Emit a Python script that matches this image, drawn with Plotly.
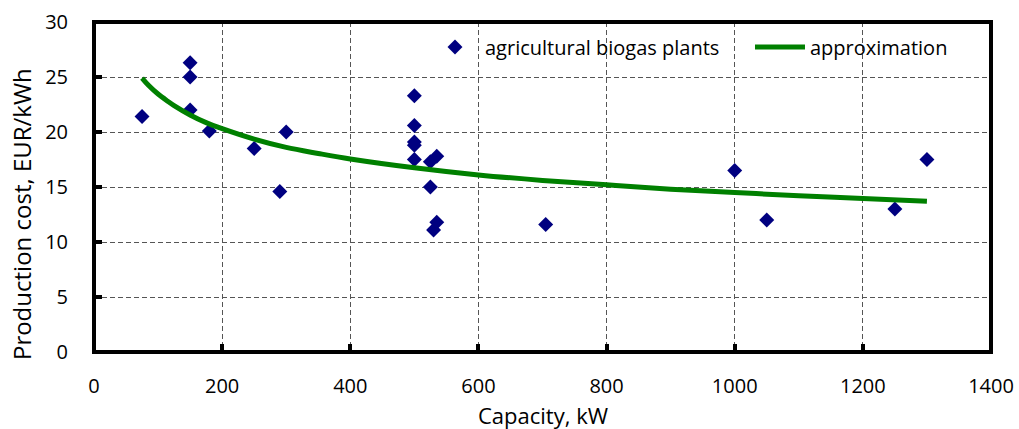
import plotly.graph_objects as go

# Scatter data: agricultural biogas plants
capacity_kw = [75, 150, 150, 150, 180, 250, 290, 300, 500, 500, 500, 500, 500,
               525, 535, 525, 535, 530, 705, 1000, 1050, 1250, 1300]
cost_eur_kwh = [21.4, 26.3, 25.0, 22.0, 20.1, 18.5, 14.6, 20.0, 23.3, 20.6, 19.1, 18.8, 17.5,
                17.3, 17.8, 15.0, 11.8, 11.1, 11.6, 16.5, 12.0, 13.0, 17.5]

# Approximation curve
approx_x = [75, 85, 100, 115, 125, 150, 175, 200, 250, 300, 350, 400, 500, 600, 700, 800,
            900, 1000, 1100, 1200, 1300]
approx_y = [24.9, 24.25, 23.45, 22.8, 22.4, 21.55, 20.85, 20.3, 19.35, 18.6, 18.05, 17.55,
            16.75, 16.1, 15.6, 15.2, 14.8, 14.5, 14.2, 13.95, 13.7]

x_ticks = [0, 200, 400, 600, 800, 1000, 1200, 1400]
y_ticks = [0, 5, 10, 15, 20, 25, 30]

FONT = "Open Sans"

fig = go.Figure()
fig.add_trace(go.Scatter(
    x=capacity_kw, y=cost_eur_kwh, mode="markers",
    name="agricultural biogas plants",
    marker=dict(symbol="diamond", size=11.5, color="#000080"),
))
fig.add_trace(go.Scatter(
    x=approx_x, y=approx_y, mode="lines", line_shape="spline",
    name="approximation",
    line=dict(color="#008000", width=5),
))

axis_common = dict(
    showline=False, zeroline=False,
    showgrid=True, gridcolor="#555555", gridwidth=1, griddash="5px,3px",
    ticks="inside", ticklen=8, tickwidth=4, tickcolor="black",
    tickfont=dict(family=FONT, size=20, color="black"),
)

fig.update_layout(
    width=1019, height=429,
    margin=dict(l=94, r=28, t=22, b=77, autoexpand=False),
    paper_bgcolor="white", plot_bgcolor="white",
    font=dict(family=FONT, color="black"),
    xaxis=dict(range=[0, 1400], tickvals=x_ticks, ticklabelstandoff=20, **axis_common),
    yaxis=dict(range=[0, 30], tickvals=y_ticks, ticklabelstandoff=25, **axis_common),
    legend=dict(
        orientation="h", x=0.369, xanchor="left", y=0.924, yanchor="middle",
        bgcolor="rgba(0,0,0,0)", font=dict(family=FONT, size=20, color="black"),
        itemwidth=50, entrywidth=260, entrywidthmode="pixels",
    ),
    showlegend=True,
    shapes=[dict(type="rect", xref="paper", yref="paper", x0=0, x1=1, y0=0, y1=1,
                 line=dict(color="black", width=4), layer="above")],
    annotations=[
        dict(text="Capacity, kW", xref="paper", yref="paper", x=0.5, y=-0.19,
             xanchor="center", yanchor="middle", showarrow=False,
             font=dict(family=FONT, size=22, color="black")),
        dict(text="Production cost, EUR/kWh", xref="paper", yref="paper",
             x=(21 - 94) / 897, y=0.418, xanchor="center", yanchor="middle",
             textangle=-90, showarrow=False,
             font=dict(family=FONT, size=24, color="black")),
    ],
)

fig.write_html("out.html")
